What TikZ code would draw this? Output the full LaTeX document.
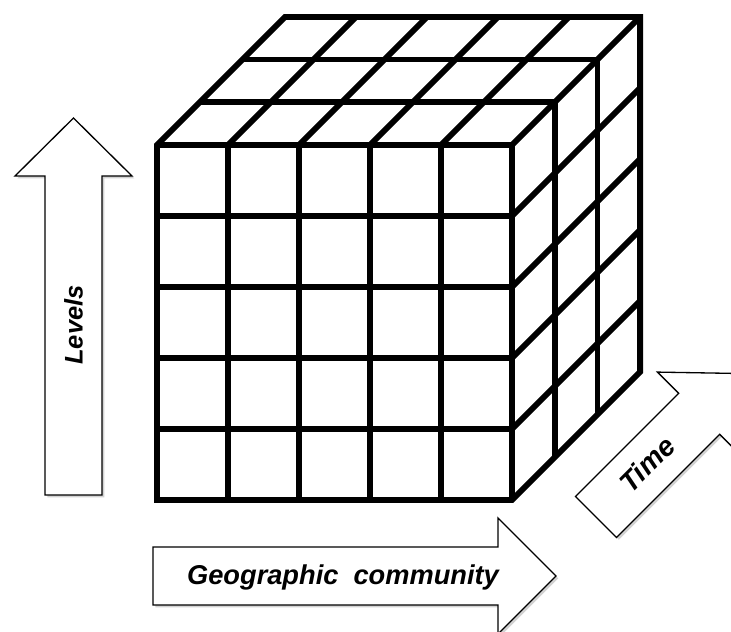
\documentclass[tikz,border=0pt]{standalone}
\usepackage{fontspec}
\setmainfont{Liberation Sans}
\usetikzlibrary{shadows}
\begin{document}
\begin{tikzpicture}[x={(0.02cm,0)}, y={(0,-0.02cm)},
  cubeline/.style={line width=3.3pt, line join=miter},
  bigarrow/.style={draw=black, line width=0.75pt, fill=white, line join=miter,
    drop shadow={shadow xshift=1.3pt, shadow yshift=-1.3pt, fill=black!22, opacity=0.8}},
  lab/.style={font=\bfseries\itshape\fontsize{14.5}{16}\selectfont, inner sep=0pt}]
\useasboundingbox (0,0) rectangle (731,632);
\clip (0,0) rectangle (731,632);
\def\cw{71}
\def\dd{42.7}
% cube silhouette and visible edges
\draw[cubeline] (157,145) -- (285.1,16.9) -- (640.1,16.9) -- (640.1,371.9) -- (512,500) -- (157,500) -- cycle;
\draw[cubeline] (157,145) -- (512,145) -- (512,500);
\draw[cubeline] (512,145) -- (640.1,16.9);
% front grid
\foreach \i in {1,...,4} {
  \draw[cubeline] ({157+\cw*\i},145) -- ({157+\cw*\i},500);
  \draw[cubeline] (157,{145+\cw*\i}) -- (512,{145+\cw*\i});
  % top face receding lines
  \draw[cubeline] ({157+\cw*\i},145) -- ({157+\cw*\i+3*\dd},{145-3*\dd});
  % right face diagonals
  \draw[cubeline] (512,{145+\cw*\i}) -- ({512+3*\dd},{145+\cw*\i-3*\dd});
}
\foreach \j in {1,2} {
  \draw[cubeline] ({157+\dd*\j},{145-\dd*\j}) -- ({512+\dd*\j},{145-\dd*\j});
  \draw[cubeline] ({512+\dd*\j},{145-\dd*\j}) -- ({512+\dd*\j},{500-\dd*\j});
}
% Levels arrow
\draw[bigarrow] (45,495) -- (45,176) -- (15,176) -- (73.5,118) -- (132,176) -- (102,176) -- (102,495) -- cycle;
\node[lab, rotate=90] (levels) at (73.5,325) {Levels};
% Geographic community arrow
\draw[bigarrow] (153,547) -- (498,547) -- (498,518) -- (556,576) -- (498,634) -- (498,605) -- (153,605) -- cycle;
\node[lab, font=\bfseries\itshape\fontsize{15.5}{17}\selectfont] (geo) at (343,577) {Geographic\ \ community};
% Time arrow
\draw[bigarrow] (575.5,496.5) -- (616.5,537.5) -- (719.7,434.3) -- (740.9,455.5) -- (739.5,373.5) -- (657.5,372.1) -- (678.7,393.3) -- cycle;
\node[lab, font=\bfseries\itshape\fontsize{16}{18}\selectfont, rotate=45] (time) at (647,464) {Time};
\end{tikzpicture}
\end{document}
